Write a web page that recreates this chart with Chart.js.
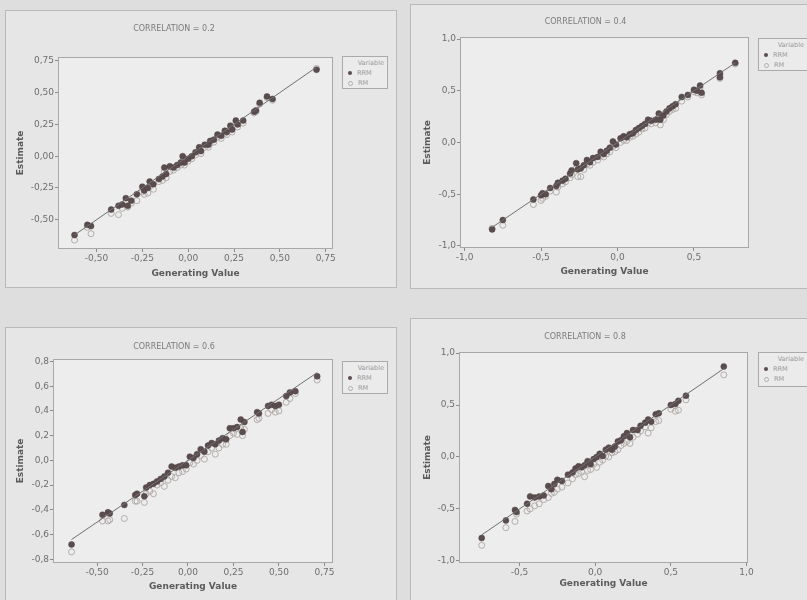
<!DOCTYPE html>
<html>
<head>
<meta charset="utf-8">
<script src="https://cdn.jsdelivr.net/npm/chart.js@4.4.1/dist/chart.umd.min.js"></script>
<style>
body { margin: 0; width: 807px; height: 600px; background: #dedede; overflow: hidden; position: relative; font-family: "DejaVu Sans", sans-serif; }
.frame { position: absolute; background: #e6e6e6; border: 1px solid #b9b9b9; box-sizing: border-box; }
canvas { position: absolute; }
.legend { position: absolute; border: 1px solid #aaa; background: #ebebeb; box-sizing: border-box; font-size: 6.5px; color: #9a9a9a; line-height: 10px; padding: 1px 3px 0 3px; }
.legend .head { text-align: right; }
.legend .dot { display: inline-block; width: 4px; height: 4px; border-radius: 50%; margin: 0 5px 0 2px; vertical-align: middle; }
.legend .rrm { background: #5b4c4e; }
.legend .rm { border: 1px solid #b3adab; width: 3px; height: 3px; }
</style>
</head>
<body>
<script>
// correlation = 0.2
const gen02 = [-0.62, -0.55, -0.53, -0.42, -0.38, -0.36, -0.34, -0.33, -0.31, -0.28, -0.25, -0.24, -0.22, -0.21, -0.19, -0.16, -0.14, -0.13, -0.12, -0.10, -0.08, -0.06, -0.04, -0.03, -0.02, 0.00, 0.02, 0.04, 0.06, 0.07, 0.09, 0.11, 0.12, 0.14, 0.16, 0.18, 0.20, 0.21, 0.23, 0.24, 0.26, 0.27, 0.30, 0.36, 0.37, 0.39, 0.43, 0.46, 0.70];
const rrm02 = [-0.62, -0.54, -0.55, -0.42, -0.39, -0.38, -0.33, -0.39, -0.35, -0.30, -0.24, -0.27, -0.25, -0.20, -0.22, -0.18, -0.16, -0.09, -0.14, -0.08, -0.09, -0.07, -0.05, 0.00, -0.05, -0.02, 0.00, 0.03, 0.07, 0.04, 0.09, 0.09, 0.12, 0.13, 0.17, 0.16, 0.20, 0.19, 0.24, 0.21, 0.28, 0.25, 0.28, 0.35, 0.36, 0.42, 0.47, 0.45, 0.68];
const rm02 = [-0.66, -0.56, -0.61, -0.45, -0.46, -0.41, -0.36, -0.40, -0.37, -0.35, -0.28, -0.30, -0.29, -0.24, -0.26, -0.20, -0.19, -0.12, -0.17, -0.12, -0.11, -0.09, -0.07, -0.04, -0.07, -0.04, -0.02, 0.01, 0.04, 0.02, 0.07, 0.07, 0.10, 0.11, 0.15, 0.14, 0.18, 0.17, 0.21, 0.19, 0.26, 0.23, 0.26, 0.34, 0.35, 0.41, 0.46, 0.44, 0.69];

// correlation = 0.4
const gen04 = [-0.82, -0.75, -0.55, -0.50, -0.49, -0.47, -0.44, -0.40, -0.39, -0.36, -0.34, -0.31, -0.30, -0.27, -0.26, -0.24, -0.22, -0.20, -0.18, -0.16, -0.13, -0.11, -0.09, -0.07, -0.05, -0.03, -0.01, 0.02, 0.04, 0.06, 0.08, 0.10, 0.12, 0.14, 0.16, 0.18, 0.20, 0.22, 0.25, 0.27, 0.28, 0.30, 0.32, 0.34, 0.36, 0.38, 0.42, 0.46, 0.50, 0.52, 0.54, 0.55, 0.67, 0.67, 0.77];
const rrm04 = [-0.84, -0.75, -0.55, -0.51, -0.49, -0.50, -0.44, -0.42, -0.39, -0.37, -0.35, -0.30, -0.27, -0.20, -0.26, -0.25, -0.22, -0.17, -0.19, -0.15, -0.14, -0.09, -0.11, -0.08, -0.05, 0.01, -0.02, 0.04, 0.06, 0.05, 0.08, 0.09, 0.12, 0.14, 0.16, 0.18, 0.22, 0.21, 0.22, 0.28, 0.22, 0.26, 0.30, 0.33, 0.35, 0.37, 0.44, 0.46, 0.51, 0.50, 0.55, 0.48, 0.67, 0.63, 0.77];
const rm04 = [-0.83, -0.80, -0.60, -0.56, -0.54, -0.52, -0.47, -0.48, -0.43, -0.40, -0.38, -0.34, -0.31, -0.25, -0.33, -0.33, -0.26, -0.21, -0.22, -0.19, -0.17, -0.13, -0.14, -0.11, -0.09, -0.04, -0.05, 0.00, 0.02, 0.02, 0.05, 0.06, 0.08, 0.10, 0.13, 0.14, 0.19, 0.18, 0.19, 0.24, 0.17, 0.22, 0.27, 0.30, 0.32, 0.33, 0.40, 0.44, 0.49, 0.48, 0.53, 0.46, 0.65, 0.62, 0.76];

// correlation = 0.6
const gen06 = [-0.64, -0.47, -0.44, -0.43, -0.35, -0.29, -0.28, -0.24, -0.23, -0.21, -0.19, -0.17, -0.15, -0.13, -0.11, -0.09, -0.07, -0.05, -0.03, -0.01, 0.01, 0.03, 0.05, 0.07, 0.09, 0.11, 0.13, 0.15, 0.17, 0.19, 0.21, 0.23, 0.25, 0.27, 0.29, 0.30, 0.31, 0.38, 0.39, 0.44, 0.46, 0.48, 0.50, 0.54, 0.56, 0.59, 0.71];
const rrm06 = [-0.68, -0.44, -0.42, -0.43, -0.36, -0.28, -0.27, -0.29, -0.22, -0.20, -0.19, -0.17, -0.15, -0.13, -0.10, -0.05, -0.06, -0.05, -0.04, -0.04, 0.03, 0.02, 0.05, 0.09, 0.07, 0.12, 0.14, 0.13, 0.16, 0.18, 0.17, 0.26, 0.26, 0.27, 0.33, 0.23, 0.31, 0.39, 0.38, 0.44, 0.45, 0.44, 0.45, 0.52, 0.55, 0.56, 0.68];
const rm06 = [-0.74, -0.49, -0.49, -0.48, -0.47, -0.33, -0.33, -0.34, -0.27, -0.25, -0.27, -0.20, -0.18, -0.21, -0.16, -0.13, -0.14, -0.10, -0.09, -0.07, -0.02, -0.03, 0.00, 0.04, 0.01, 0.07, 0.10, 0.05, 0.10, 0.13, 0.13, 0.20, 0.22, 0.21, 0.26, 0.20, 0.25, 0.33, 0.34, 0.38, 0.41, 0.39, 0.40, 0.47, 0.50, 0.54, 0.65];

// correlation = 0.8
const gen08 = [-0.75, -0.59, -0.53, -0.52, -0.45, -0.43, -0.40, -0.37, -0.34, -0.31, -0.29, -0.27, -0.25, -0.22, -0.18, -0.15, -0.13, -0.11, -0.09, -0.07, -0.05, -0.03, -0.01, 0.01, 0.03, 0.05, 0.07, 0.09, 0.11, 0.13, 0.15, 0.17, 0.19, 0.21, 0.23, 0.25, 0.28, 0.30, 0.33, 0.35, 0.37, 0.40, 0.42, 0.50, 0.53, 0.55, 0.60, 0.85];
const rrm08 = [-0.78, -0.61, -0.51, -0.53, -0.45, -0.38, -0.39, -0.38, -0.37, -0.28, -0.31, -0.26, -0.22, -0.23, -0.17, -0.15, -0.11, -0.09, -0.10, -0.08, -0.04, -0.07, -0.02, 0.00, 0.03, 0.01, 0.07, 0.09, 0.07, 0.10, 0.15, 0.16, 0.20, 0.23, 0.19, 0.26, 0.26, 0.30, 0.33, 0.36, 0.34, 0.41, 0.42, 0.50, 0.51, 0.54, 0.59, 0.87];
const rm08 = [-0.85, -0.68, -0.62, -0.55, -0.52, -0.50, -0.47, -0.45, -0.41, -0.39, -0.35, -0.34, -0.31, -0.29, -0.25, -0.21, -0.17, -0.16, -0.14, -0.19, -0.13, -0.12, -0.07, -0.10, -0.05, -0.03, 0.01, 0.00, 0.04, 0.05, 0.07, 0.11, 0.13, 0.15, 0.13, 0.19, 0.22, 0.25, 0.29, 0.23, 0.28, 0.34, 0.35, 0.46, 0.44, 0.45, 0.55, 0.79];

// tick labels
const ticksQuarter = [-0.5, -0.25, 0, 0.25, 0.5, 0.75];
const ticksHalf = [-1.0, -0.5, 0, 0.5, 1.0];
const ticksHalfX2 = [-1.0, -0.5, 0, 0.5];
const ticksHalfX4 = [-0.5, 0, 0.5, 1.0];
const ticksFifth = [-0.8, -0.6, -0.4, -0.2, 0, 0.2, 0.4, 0.6, 0.8];

const titles = ["CORRELATION = 0.2", "CORRELATION = 0.4", "CORRELATION = 0.6", "CORRELATION = 0.8"];
const seriesNames = ["RRM", "RM"];

function fmt(v, dec) {
    return v.toFixed(dec).replace(".", ",");
}

function points(xs, ys) {
    let out = [];
    for (let i = 0; i < xs.length; i++) {
        out.push({ x: xs[i], y: ys[i] });
    }
    return out;
}

const plotBox = {
    id: "plotBox",
    beforeDraw(chart) {
        const a = chart.chartArea;
        const ctx = chart.ctx;
        ctx.save();
        ctx.fillStyle = "#ededed";
        ctx.fillRect(a.left, a.top, a.right - a.left, a.bottom - a.top);
        ctx.strokeStyle = "#a8a8a8";
        ctx.lineWidth = 1;
        ctx.strokeRect(a.left + 0.5, a.top + 0.5, a.right - a.left - 1, a.bottom - a.top - 1);
        ctx.restore();
    }
};

function addDiv(cls, x, y, w, h) {
    let d = document.createElement("div");
    d.className = cls;
    d.style.left = x + "px";
    d.style.top = y + "px";
    d.style.width = w + "px";
    d.style.height = h + "px";
    document.body.appendChild(d);
    return d;
}

function makePanel(p) {
    addDiv("frame", p.frame[0], p.frame[1], p.frame[2], p.frame[3]);

    let canvas = document.createElement("canvas");
    canvas.width = p.canvas[2];
    canvas.height = p.canvas[3];
    canvas.style.left = p.canvas[0] + "px";
    canvas.style.top = p.canvas[1] + "px";
    document.body.appendChild(canvas);

    const cx = p.canvas[0], cy = p.canvas[1], cw = p.canvas[2], ch = p.canvas[3];
    const padLeft = p.yTitleX - 6 - cx;
    const yWidth = p.plot[0] - cx - padLeft;
    const padRight = cx + cw - p.plot[2];
    const padBottom = cy + ch - (p.xTitleY + 6);
    const xHeight = p.xTitleY + 6 - p.plot[3];

    const lo = Math.min(...p.gen), hi = Math.max(...p.gen);

    new Chart(canvas.getContext("2d"), {
        type: "scatter",
        data: {
            datasets: [
                {
                    label: "line",
                    type: "line",
                    data: [{ x: lo, y: lo }, { x: hi, y: hi }],
                    borderColor: "#707070",
                    borderWidth: 1,
                    pointRadius: 0,
                    order: 0
                },
                {
                    label: seriesNames[0],
                    data: points(p.gen, p.rrm),
                    backgroundColor: "#5b4c4e",
                    borderColor: "#4e4244",
                    borderWidth: 0.5,
                    pointRadius: 3,
                    order: 1
                },
                {
                    label: seriesNames[1],
                    data: points(p.gen, p.rm),
                    backgroundColor: "rgba(0,0,0,0)",
                    borderColor: "#b3adab",
                    borderWidth: 1,
                    pointRadius: 3,
                    order: 2
                }
            ]
        },
        options: {
            responsive: false,
            animation: false,
            devicePixelRatio: 1,
            layout: { padding: { left: padLeft, right: padRight, top: 0, bottom: padBottom } },
            plugins: {
                legend: { display: false },
                tooltip: { enabled: false },
                title: {
                    display: true,
                    text: p.title,
                    color: "#7a7a7a",
                    font: { family: "DejaVu Sans", size: 8, weight: "normal", lineHeight: 1.25 },
                    padding: { top: p.titleY - cy - 5, bottom: p.plot[1] - p.titleY - 5 }
                }
            },
            scales: {
                x: {
                    type: "linear",
                    min: p.xRange[0],
                    max: p.xRange[1],
                    afterBuildTicks: (axis) => { axis.ticks = p.xTicks.map(v => ({ value: v })); },
                    afterFit: (axis) => { axis.height = xHeight; },
                    grid: { display: true, drawOnChartArea: false, drawTicks: true, tickLength: 3, color: "#8a8a8a" },
                    border: { display: false },
                    ticks: {
                        color: "#6e6e6e",
                        padding: 1,
                        font: { family: "DejaVu Sans", size: 9 },
                        maxRotation: 0,
                        callback: (v) => fmt(v, p.xDec)
                    },
                    title: {
                        display: true,
                        text: "Generating Value",
                        color: "#5a5a5a",
                        padding: 0,
                        font: { family: "DejaVu Sans", size: 9, weight: "bold", lineHeight: 1.2 }
                    }
                },
                y: {
                    type: "linear",
                    min: p.yRange[0],
                    max: p.yRange[1],
                    afterBuildTicks: (axis) => { axis.ticks = p.yTicks.map(v => ({ value: v })); },
                    afterFit: (axis) => { axis.width = yWidth; },
                    grid: { display: true, drawOnChartArea: false, drawTicks: true, tickLength: 3, color: "#8a8a8a" },
                    border: { display: false },
                    ticks: {
                        color: "#6e6e6e",
                        padding: 1,
                        font: { family: "DejaVu Sans", size: 9 },
                        callback: (v) => fmt(v, p.yDec)
                    },
                    title: {
                        display: true,
                        text: "Estimate",
                        color: "#5a5a5a",
                        padding: 0,
                        font: { family: "DejaVu Sans", size: 9, weight: "bold", lineHeight: 1.2 }
                    }
                }
            }
        },
        plugins: [plotBox]
    });

    let lg = addDiv("legend", p.legend[0], p.legend[1], p.legend[2], p.legend[3]);
    lg.innerHTML = '<div class="head">Variable</div>' +
        '<div><span class="dot rrm"></span>' + seriesNames[0] + '</div>' +
        '<div><span class="dot rm"></span>' + seriesNames[1] + '</div>';
}

makePanel({
    title: titles[0], gen: gen02, rrm: rrm02, rm: rm02,
    frame: [5, 10, 392, 278], canvas: [5, 10, 390, 277], plot: [58, 57, 333, 249],
    titleY: 29, yTitleX: 21, xTitleY: 273,
    xRange: [-0.71, 0.79], yRange: [-0.73, 0.78],
    xTicks: ticksQuarter, yTicks: ticksQuarter, xDec: 2, yDec: 2,
    legend: [342, 56, 46, 33]
});

makePanel({
    title: titles[1], gen: gen04, rrm: rrm04, rm: rm04,
    frame: [410, 4, 420, 285], canvas: [410, 4, 404, 284], plot: [460, 37, 749, 248],
    titleY: 22, yTitleX: 428, xTitleY: 271,
    xRange: [-1.03, 0.86], yRange: [-1.02, 1.02],
    xTicks: ticksHalfX2, yTicks: ticksHalf, xDec: 1, yDec: 1,
    legend: [758, 38, 50, 33]
});

makePanel({
    title: titles[2], gen: gen06, rrm: rrm06, rm: rm06,
    frame: [5, 327, 392, 290], canvas: [5, 327, 390, 273], plot: [53, 359, 333, 563],
    titleY: 347, yTitleX: 21, xTitleY: 586,
    xRange: [-0.742, 0.797], yRange: [-0.83, 0.82],
    xTicks: ticksQuarter, yTicks: ticksFifth, xDec: 2, yDec: 1,
    legend: [342, 361, 46, 33]
});

makePanel({
    title: titles[3], gen: gen08, rrm: rrm08, rm: rm08,
    frame: [410, 318, 420, 300], canvas: [410, 318, 404, 282], plot: [459, 352, 748, 563],
    titleY: 337, yTitleX: 428, xTitleY: 583,
    xRange: [-0.90, 1.01], yRange: [-1.02, 1.01],
    xTicks: ticksHalfX4, yTicks: ticksHalf, xDec: 1, yDec: 1,
    legend: [758, 352, 50, 35]
});
</script>
</body>
</html>
